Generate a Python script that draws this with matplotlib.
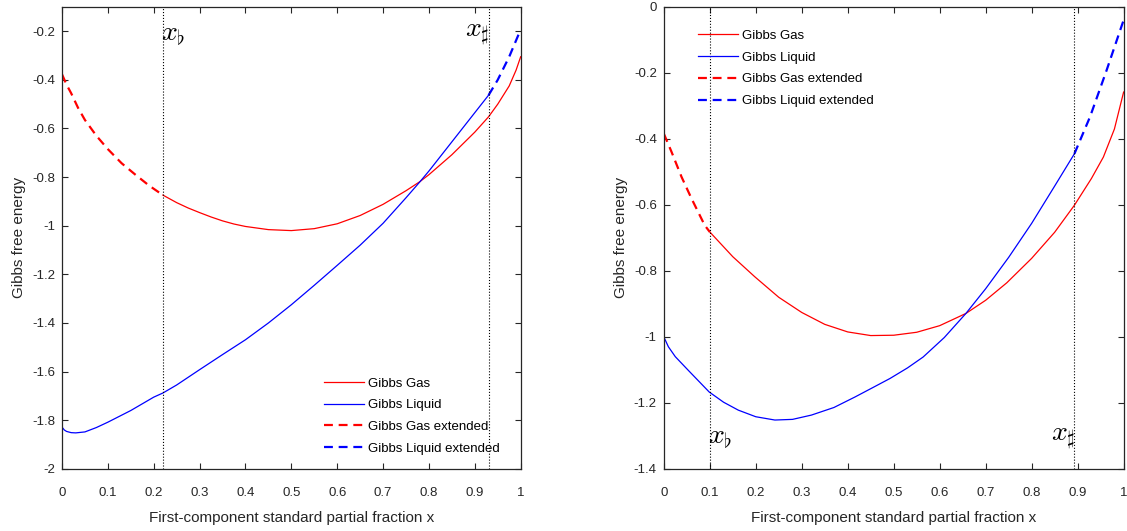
import matplotlib
matplotlib.use("Agg")
import matplotlib.pyplot as plt

plt.rcParams["font.family"] = ["Liberation Sans", "DejaVu Sans"]
plt.rcParams["mathtext.fontset"] = "cm"
plt.rcParams["axes.unicode_minus"] = False

# ---- left panel ----
L_X_FLAT, L_X_SHARP = 0.22, 0.93
l_gas_ext_x = [0.0, 0.01, 0.02, 0.035, 0.05, 0.075, 0.10, 0.13, 0.16, 0.19, 0.22]
l_gas_ext_y = [-0.377, -0.420, -0.455, -0.515, -0.565, -0.630, -0.685, -0.743, -0.790, -0.835, -0.874]
l_gas_x = [0.22, 0.25, 0.275, 0.30, 0.325, 0.35, 0.375, 0.40, 0.45, 0.50, 0.55, 0.60, 0.65,
           0.70, 0.75, 0.78, 0.80, 0.85, 0.90, 0.93, 0.95, 0.975, 0.99, 1.0]
l_gas_y = [-0.874, -0.905, -0.927, -0.946, -0.964, -0.980, -0.993, -1.003, -1.016, -1.020,
           -1.012, -0.992, -0.958, -0.912, -0.856, -0.819, -0.790, -0.708, -0.615, -0.552,
           -0.500, -0.425, -0.360, -0.305]
l_liq_x = [0.0, 0.005, 0.01, 0.02, 0.03, 0.05, 0.075, 0.10, 0.15, 0.20, 0.22, 0.25, 0.30, 0.35,
           0.40, 0.45, 0.50, 0.55, 0.60, 0.65, 0.70, 0.75, 0.78, 0.80, 0.85, 0.90, 0.93]
l_liq_y = [-1.828, -1.840, -1.846, -1.851, -1.852, -1.848, -1.830, -1.808, -1.760, -1.705,
           -1.688, -1.655, -1.592, -1.530, -1.469, -1.400, -1.325, -1.245, -1.163, -1.080,
           -0.990, -0.885, -0.820, -0.775, -0.655, -0.535, -0.463]
l_liq_ext_x = [0.93, 0.95, 0.975, 1.0]
l_liq_ext_y = [-0.463, -0.400, -0.305, -0.193]

# ---- right panel ----
R_X_FLAT, R_X_SHARP = 0.10, 0.893
r_gas_ext_x = [0.0, 0.0167, 0.0385, 0.06, 0.089, 0.10]
r_gas_ext_y = [-0.384, -0.439, -0.515, -0.580, -0.662, -0.682]
r_gas_x = [0.10, 0.15, 0.198, 0.25, 0.30, 0.35, 0.40, 0.45, 0.50, 0.55, 0.60, 0.657, 0.70,
           0.746, 0.80, 0.85, 0.893, 0.93, 0.956, 0.98, 1.0]
r_gas_y = [-0.682, -0.757, -0.818, -0.880, -0.926, -0.962, -0.985, -0.996, -0.995, -0.986,
           -0.966, -0.929, -0.889, -0.836, -0.762, -0.683, -0.601, -0.520, -0.455, -0.370, -0.258]
r_liq_x = [0.0, 0.01, 0.025, 0.053, 0.0987, 0.13, 0.162, 0.20, 0.2416, 0.28, 0.321, 0.37,
           0.416, 0.45, 0.492, 0.53, 0.564, 0.61, 0.657, 0.70, 0.75, 0.80, 0.85, 0.893]
r_liq_y = [-1.000, -1.030, -1.060, -1.101, -1.167, -1.198, -1.222, -1.242, -1.252, -1.250,
           -1.237, -1.214, -1.182, -1.157, -1.126, -1.094, -1.061, -1.002, -0.929, -0.854,
           -0.759, -0.656, -0.543, -0.445]
r_liq_ext_x = [0.893, 0.927, 0.963, 1.0]
r_liq_ext_y = [-0.445, -0.333, -0.192, -0.040]

LEGEND_LABELS = ["Gibbs Gas", "Gibbs Liquid", "Gibbs Gas extended", "Gibbs Liquid extended"]


def draw_panel(ax, gas, liq, gas_ext, liq_ext, x_flat, x_sharp, ylim, yticks, flat_y, sharp_y,
               legend_loc, legend_anchor):
    ax.plot(*gas, color="red", lw=0.9, label=LEGEND_LABELS[0])
    ax.plot(*liq, color="blue", lw=0.9, label=LEGEND_LABELS[1])
    ax.plot(*gas_ext, color="red", lw=1.6, ls=(0, (4, 2.6)), label=LEGEND_LABELS[2])
    ax.plot(*liq_ext, color="blue", lw=1.6, ls=(0, (4, 2.6)), label=LEGEND_LABELS[3])
    for xv in (x_flat, x_sharp):
        ax.axvline(xv, color="black", ls=":", lw=0.8)
    ax.text(x_flat - 0.004, flat_y, r"$x_\flat$", fontsize=20, ha="left", va="center")
    ax.text(x_sharp + 0.002, sharp_y, r"$x_\sharp$", fontsize=20, ha="right", va="center")
    ax.set_xlim(0, 1)
    ax.set_ylim(*ylim)
    ax.set_xticks([i / 10 for i in range(11)])
    ax.set_xticklabels(["0"] + [f"{i / 10:g}" for i in range(1, 10)] + ["1"])
    ax.set_yticks(yticks)
    ax.set_yticklabels([f"{v:g}" for v in yticks])
    ax.tick_params(direction="in", top=True, right=True, labelsize=9.5, length=4,
                   width=0.8, color="#262626", labelcolor="#262626", pad=5)
    ax.tick_params(axis="x", pad=13)
    for s in ax.spines.values():
        s.set_color("#262626")
        s.set_linewidth(0.9)
    ax.set_xlabel("First-component standard partial fraction x", fontsize=11, color="#262626",
                  labelpad=9)
    ax.set_ylabel("Gibbs free energy", fontsize=11, color="#262626", labelpad=4)
    ax.legend(loc=legend_loc, bbox_to_anchor=legend_anchor, frameon=False, fontsize=9.5,
              handlelength=3.0, handletextpad=0.3, labelspacing=0.72, borderaxespad=0)


fig = plt.figure(figsize=(11.27, 5.31), dpi=100)
ax1 = fig.add_axes([0.055, 0.117, 0.407, 0.870])
ax2 = fig.add_axes([0.589, 0.117, 0.408, 0.870])

draw_panel(ax1, (l_gas_x, l_gas_y), (l_liq_x, l_liq_y), (l_gas_ext_x, l_gas_ext_y),
           (l_liq_ext_x, l_liq_ext_y), L_X_FLAT, L_X_SHARP, (-2, -0.1),
           [-2, -1.8, -1.6, -1.4, -1.2, -1, -0.8, -0.6, -0.4, -0.2], -0.215, -0.215,
           "lower left", (0.56, 0.019))
draw_panel(ax2, (r_gas_x, r_gas_y), (r_liq_x, r_liq_y), (r_gas_ext_x, r_gas_ext_y),
           (r_liq_ext_x, r_liq_ext_y), R_X_FLAT, R_X_SHARP, (-1.4, 0),
           [-1.4, -1.2, -1, -0.8, -0.6, -0.4, -0.2, 0], -1.305, -1.31,
           "upper left", (0.063, 0.962))

fig.savefig("out.png", dpi=100)
